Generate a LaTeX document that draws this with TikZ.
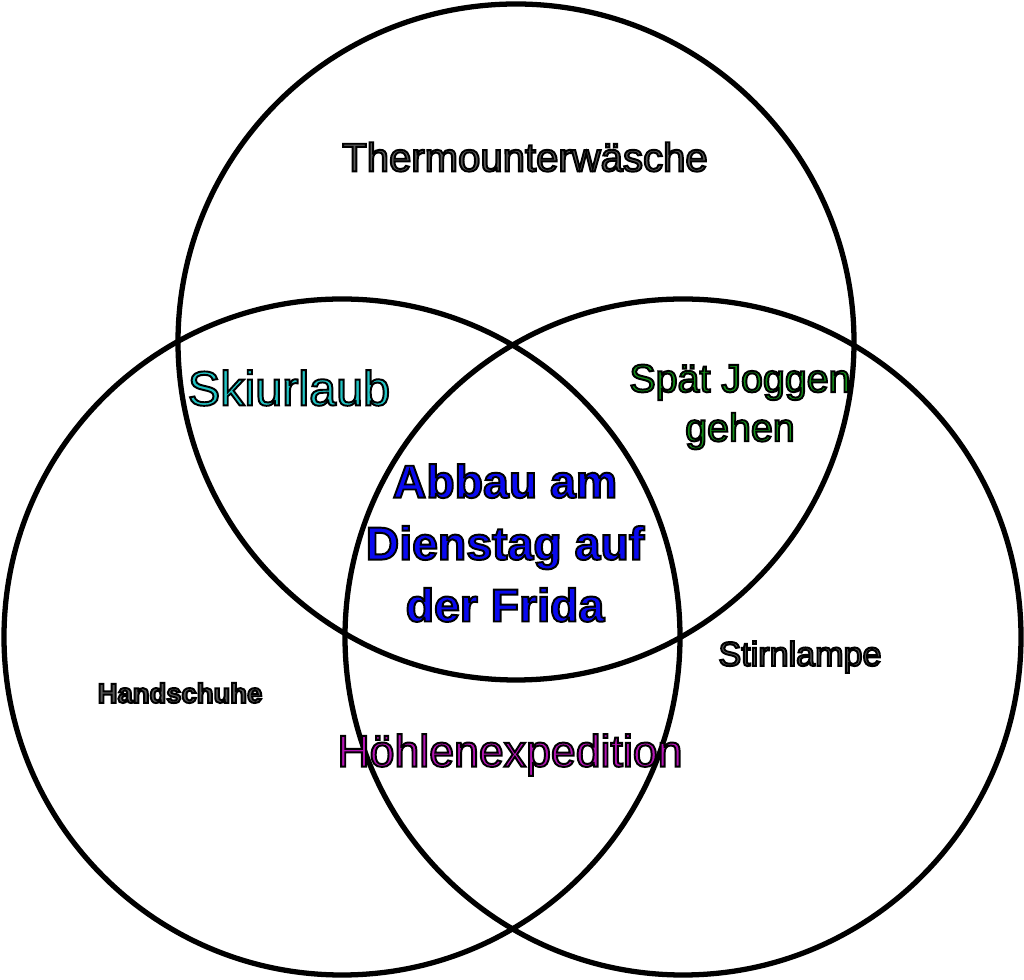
\documentclass[tikz,border=0pt]{standalone}
\usepackage{fontspec}
\setmainfont{Liberation Sans}
\usepackage{xcolor}
\usetikzlibrary{positioning}
\definecolor{skicol}{HTML}{22C4C4}
\definecolor{joggcol}{HTML}{14921A}
\definecolor{fridacol}{HTML}{0A0AF0}
\definecolor{hoehlcol}{HTML}{B414B4}
\definecolor{greycol}{HTML}{5A5A5A}
\tikzset{
  ring/.style={line width=1.5pt, draw=black},
  lbl/.style={inner sep=0pt, align=center},
}
% filled letters with a black rim
\newcommand{\outl}[1]{\special{pdf:literal direct 2 Tr 0.55 w 0 G}#1\special{pdf:literal direct 0 Tr}}

\begin{document}
\begin{tikzpicture}[x=0.01cm, y=-0.01cm]
		\useasboundingbox (0,0) rectangle (1024,980);
		% the three circles
		\draw[ring] (516,342) circle (338);
		\draw[ring] (342,637) circle (338);
		\draw[ring] (683,637) circle (338);

		% single sets
		\node[lbl, text=greycol, font=\fontsize{11.4}{13}\selectfont] (thermo) at (525,157) {\outl{Thermounterwäsche}};
		\node[lbl, text=greycol, font=\fontsize{7.8}{9}\selectfont\bfseries] (hand) at (180,693) {\outl{Handschuhe}};
		\node[lbl, text=greycol, font=\fontsize{9.7}{11}\selectfont] (stirn) at (800,657) {\outl{Stirnlampe}};

		% pairs
		\node[lbl, text=skicol, font=\fontsize{13.8}{16}\selectfont] (ski) at (289,388) {\outl{Skiurlaub}};
		\node[lbl, text=joggcol, font=\fontsize{11.2}{14}\selectfont] (jogg) at (740,407) {\outl{Spät Joggen}\\\outl{gehen}};
		\node[lbl, text=hoehlcol, font=\fontsize{12.7}{14}\selectfont] (hoehl) at (510,755) {\outl{Höhlenexpedition}};

		% all three
		\node[lbl, text=fridacol, font=\fontsize{13.2}{17.6}\selectfont\bfseries] (frida) at (505,543) {\outl{Abbau am}\\\outl{Dienstag auf}\\\outl{der Frida}};
	\end{tikzpicture}
\end{document}
